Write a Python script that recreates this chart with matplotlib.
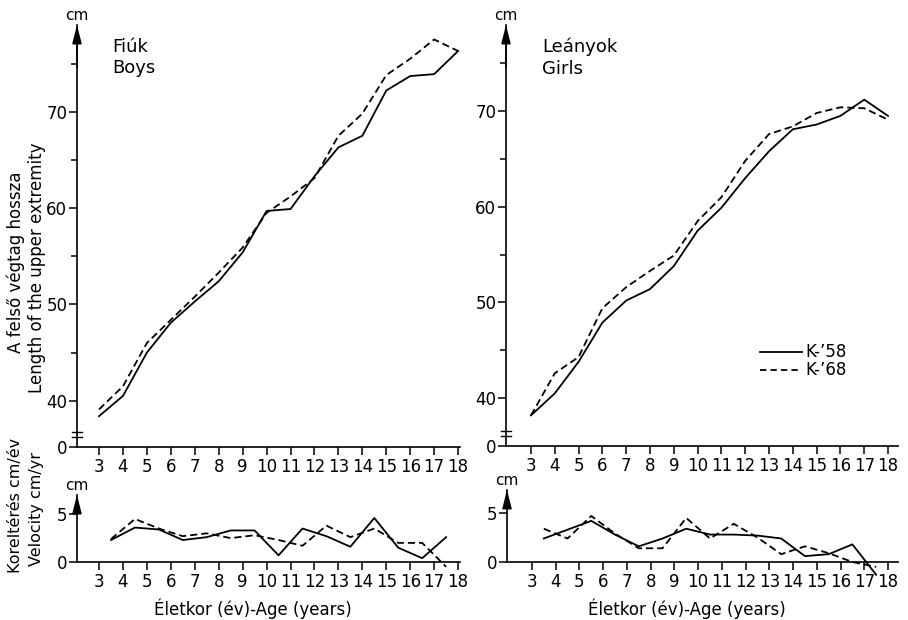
import matplotlib
matplotlib.use("Agg")
import matplotlib.pyplot as plt
import numpy as np

plt.rcParams['font.family'] = ['DejaVu Sans']

ages = [3, 4, 5, 6, 7, 8, 9, 10, 11, 12, 13, 14, 15, 16, 17, 18]
boys_k58 = [38.4, 40.5, 45.0, 48.1, 50.3, 52.4, 55.4, 59.7, 59.9, 63.3, 66.3, 67.5, 72.2, 73.7, 73.9, 76.3]
boys_k68 = [39.1, 41.5, 46.0, 48.4, 50.8, 53.3, 55.9, 59.5, 61.2, 63.1, 67.5, 69.8, 73.8, 75.5, 77.5, 76.3]
girls_k58 = [38.2, 40.5, 43.8, 47.9, 50.2, 51.4, 53.8, 57.5, 59.9, 63.0, 65.8, 68.1, 68.6, 69.5, 71.2, 69.5]
girls_k68 = [38.2, 42.6, 44.3, 49.4, 51.6, 53.3, 54.9, 58.5, 61.0, 64.8, 67.6, 68.4, 69.8, 70.4, 70.3, 69.1]

vel_ages = [3.5, 4.5, 5.5, 6.5, 7.5, 8.5, 9.5, 10.5, 11.5, 12.5, 13.5, 14.5, 15.5, 16.5, 17.5]
boys_vel_k58 = [2.3, 3.6, 3.4, 2.3, 2.6, 3.3, 3.3, 0.7, 3.5, 2.7, 1.6, 4.6, 1.5, 0.4, 2.6]
boys_vel_k68 = [2.4, 4.5, 3.5, 2.7, 3.0, 2.5, 2.8, 2.3, 1.7, 3.8, 2.6, 3.5, 2.0, 2.0, -0.5]
girls_vel_k58 = [2.4, 3.3, 4.2, 2.8, 1.6, 2.4, 3.4, 2.8, 2.8, 2.7, 2.4, 0.6, 0.8, 1.8, -1.3]
girls_vel_k68 = [3.4, 2.4, 4.7, 2.9, 1.4, 1.4, 4.5, 2.4, 3.9, 2.5, 0.8, 1.6, 0.9, 0.0, -0.5]

top_yticks = [40, 50, 60, 70]
top_minor = [45, 55, 65, 75]
legend_labels = ["K-\u201958", "K-\u201968"]

W, H = 908, 620
fig = plt.figure(figsize=(W / 100, H / 100), dpi=100)
fig.patch.set_facecolor('white')

FS = 12
LW = 1.3
DASH = (4, 2.2)


def px_axes(x0, x1, ytop, ybot):
    return fig.add_axes([x0 / W, 1 - ybot / H, (x1 - x0) / W, (ybot - ytop) / H])


def style_axes(ax):
    for s in ['top', 'right']:
        ax.spines[s].set_visible(False)
    ax.spines['left'].set_linewidth(1.2)
    ax.spines['bottom'].set_linewidth(1.2)
    ax.tick_params(axis='both', which='both', direction='out', width=1.1, labelsize=FS)
    ax.tick_params(axis='x', length=6, pad=2)
    ax.tick_params(axis='y', length=6, pad=1)
    ax.patch.set_alpha(0)
    ax.annotate('', xy=(0, 1.0), xycoords='axes fraction', xytext=(0, 0.9),
                textcoords='axes fraction',
                arrowprops=dict(arrowstyle='-|>,head_length=1.1,head_width=0.28',
                                color='black', lw=1.2, shrinkA=0, shrinkB=0),
                annotation_clip=False)
    ax.annotate('cm', xy=(0, 1.0), xycoords='axes fraction', xytext=(0, 1.5),
                textcoords='offset points', fontsize=FS - 1, ha='center', va='bottom',
                annotation_clip=False)


def top_panel(ax, xlim, ylim, s58, s68):
    ax.set_xlim(*xlim)
    ax.set_ylim(*ylim)
    style_axes(ax)
    ax.plot(ages, s58, color='black', lw=LW, ls='-')
    ax.plot(ages, s68, color='black', lw=LW, ls=(0, DASH))
    ax.set_xticks(ages)
    ax.set_xticklabels([str(a) for a in ages])
    ax.set_yticks([ylim[0]] + top_yticks)
    ax.set_yticklabels(['0'] + [str(v) for v in top_yticks])
    ax.set_yticks(top_minor, minor=True)
    ax.tick_params(axis='y', which='minor', length=4)
    # axis break mark
    tr = ax.get_yaxis_transform()
    for yv in (ylim[0] + 1.0, ylim[0] + 1.6):
        ax.plot([-0.012, 0.012], [yv, yv], color='black', lw=1.0, transform=tr, clip_on=False)


def bottom_panel(ax, xlim, ylim, v58, v68):
    ax.set_xlim(*xlim)
    ax.set_ylim(*ylim)
    style_axes(ax)
    ax.spines['bottom'].set_position(('data', 0))
    ax.spines['left'].set_bounds(0, ylim[1])
    ax.plot(vel_ages, v58, color='black', lw=LW, ls='-', clip_on=False)
    ax.plot(vel_ages, v68, color='black', lw=LW, ls=(0, DASH), clip_on=False)
    ax.set_xticks(ages)
    ax.set_xticklabels([str(a) for a in ages])
    ax.set_yticks([0, 5])
    ax.set_yticklabels(['0', '5'])


# Top-left: boys
ax1 = px_axes(77, 460, 25, 447)
top_panel(ax1, (2.08, 18.08), (35.2, 79.0), boys_k58, boys_k68)
ax1.text(0.092, 0.97, 'Fiúk\nBoys', transform=ax1.transAxes, fontsize=FS + 1,
         ha='left', va='top', linespacing=1.25)

# Top-right: girls
ax2 = px_axes(506, 898, 25, 446)
top_panel(ax2, (1.95, 18.42), (35.0, 79.0), girls_k58, girls_k68)
ax2.text(0.092, 0.97, 'Leányok\nGirls', transform=ax2.transAxes, fontsize=FS + 1,
         ha='left', va='top', linespacing=1.25)
# legend drawn manually
lx0, lx1 = 760, 802
for i, (lab, ls) in enumerate(zip(legend_labels, ['-', (0, (3.5, 2.3))])):
    yy = 352 + i * 18
    fig.add_artist(plt.Line2D([lx0 / W, lx1 / W], [1 - yy / H, 1 - yy / H],
                              color='black', lw=LW, ls=ls))
    fig.text(805 / W, 1 - yy / H, lab, fontsize=FS, ha='left', va='center')

# Bottom-left: boys velocity
ax3 = px_axes(77, 460, 495, 577)
bottom_panel(ax3, (2.08, 18.08), (-1.56, 7.0), boys_vel_k58, boys_vel_k68)

# Bottom-right: girls velocity
ax4 = px_axes(507, 898, 490, 577)
bottom_panel(ax4, (1.95, 18.42), (-1.53, 7.35), girls_vel_k58, girls_vel_k68)

# Y-axis labels
fig.text(16 / W, 1 - 262 / H, 'A felső végtag hossza', rotation=90, fontsize=FS,
         ha='center', va='center')
fig.text(37 / W, 1 - 268 / H, 'Length of the upper extremity', rotation=90, fontsize=FS,
         ha='center', va='center')
fig.text(16 / W, 1 - 505 / H, 'Koreltérés cm/év', rotation=90, fontsize=FS - 0.5,
         ha='center', va='center')
fig.text(37 / W, 1 - 509 / H, 'Velocity cm/yr', rotation=90, fontsize=FS - 0.5,
         ha='center', va='center')

# X-axis labels
fig.text(253 / W, 1 - 609 / H, 'Életkor (év)-Age (years)', fontsize=FS, ha='center', va='center')
fig.text(687 / W, 1 - 609 / H, 'Életkor (év)-Age (years)', fontsize=FS, ha='center', va='center')

fig.savefig('out.png', dpi=100, facecolor='white')
